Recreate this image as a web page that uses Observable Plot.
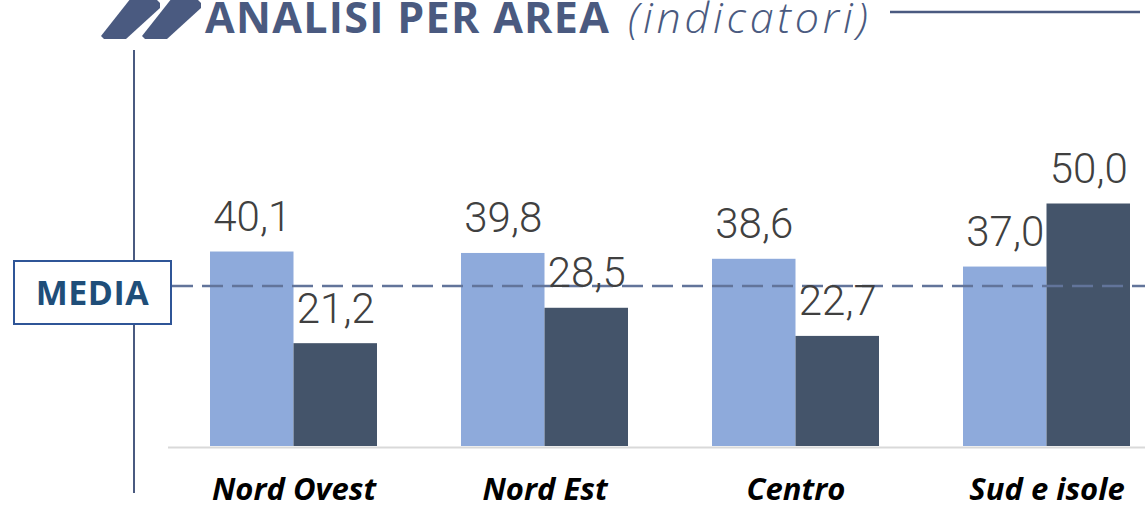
<!DOCTYPE html>
<html>
<head>
<meta charset="utf-8">
<script src="https://cdn.jsdelivr.net/npm/d3@7"></script>
<script src="https://cdn.jsdelivr.net/npm/@observablehq/plot@0.6"></script>
<style>
  html, body { margin: 0; padding: 0; background: #fff; }
  #wrap { position: relative; width: 1145px; height: 521px; overflow: hidden; }
  #wrap > svg { position: absolute; left: 0; top: 0; }
  #deco { pointer-events: none; }
</style>
</head>
<body>
<div id="wrap"></div>
<script>
// ---- data ----
const areas = ["Nord Ovest", "Nord Est", "Centro", "Sud e isole"];
const seriesA = [40.1, 39.8, 38.6, 37.0];   // light bars
const seriesB = [21.2, 28.5, 22.7, 50.0];   // dark bars
const mediaValue = 33.1;
const titleMain = "ANALISI PER AREA";
const titleSub = "(indicatori)";
const mediaLabel = "MEDIA";

const dataA = areas.map((a, i) => ({area: a, value: seriesA[i]}));
const dataB = areas.map((a, i) => ({area: a, value: seriesB[i]}));
const fmt = v => d3.format(".1f")(v).replace(".", ",");

const half = 83.5; // half of band width: each series takes one half

const chart = Plot.plot({
  width: 1145,
  height: 521,
  marginLeft: 168,
  marginRight: 0,
  marginTop: 0,
  marginBottom: 0,
  style: {fontFamily: "Roboto, 'Open Sans', sans-serif", background: "transparent", overflow: "visible"},
  x: {domain: areas, range: [210, 1130], paddingInner: 0.335, paddingOuter: 0, axis: null},
  y: {domain: [0, 50], range: [446, 203.5], axis: null},
  marks: [
    Plot.barY(dataA, {x: "area", y: "value", fill: "#8eaadb", insetRight: half}),
    Plot.barY(dataB, {x: "area", y: "value", fill: "#44546a", insetLeft: half}),
    Plot.ruleY([0], {stroke: "#d9d9d9", strokeWidth: 2, dy: 1}),
    Plot.ruleY([mediaValue], {stroke: "#62749a", strokeWidth: 2.5, strokeDasharray: "21,9", dx: 4}),
    Plot.text(dataA, {x: "area", y: "value", text: d => fmt(d.value), dx: -half / 2, dy: -21,
      lineAnchor: "bottom", fontSize: 42, fontWeight: 300, fill: "#404040"}),
    Plot.text(dataB, {x: "area", y: "value", text: d => fmt(d.value), dx: half / 2, dy: -21,
      lineAnchor: "bottom", fontSize: 42, fontWeight: 300, fill: "#404040"}),
    Plot.text(areas, {x: d => d, y: d => 0, text: d => d, dy: 44, lineAnchor: "middle",
      fontSize: 31, fontWeight: "bold", fontStyle: "italic", fill: "#000",
      fontFamily: "'Open Sans', sans-serif", letterSpacing: 0.6})
  ]
});
document.getElementById("wrap").appendChild(chart);

// ---- decorations / titles ----
const ns = "http://www.w3.org/2000/svg";
const deco = document.createElementNS(ns, "svg");
deco.setAttribute("id", "deco");
deco.setAttribute("width", 1145);
deco.setAttribute("height", 521);
const titleColor = "#4a5a80";
deco.innerHTML = `
  <polygon points="101,36 104,39 126,39 160,8 160,3 155,-2 131,-2" fill="${titleColor}"/>
  <polygon points="142,36 145,39 167,39 201,8 201,3 196,-2 172,-2" fill="${titleColor}"/>
  <line x1="134" y1="50" x2="134" y2="493" stroke="${titleColor}" stroke-width="2"/>
  <line x1="890" y1="12" x2="1140" y2="12" stroke="${titleColor}" stroke-width="2.5"/>
  <text x="205" y="33" font-family="'Open Sans', sans-serif" font-weight="bold" font-size="43" letter-spacing="1.3" fill="${titleColor}">${titleMain}</text>
  <text x="628" y="33" font-family="'Open Sans', sans-serif" font-weight="300" font-style="italic" font-size="43" letter-spacing="3.8" fill="${titleColor}">${titleSub}</text>
  <rect x="14" y="261" width="157" height="63" fill="#fff" stroke="#2f5597" stroke-width="2"/>
  <text x="92.5" y="305" text-anchor="middle" font-family="'Open Sans', sans-serif" font-weight="bold" font-size="34" letter-spacing="0.5" fill="#1f4e79">${mediaLabel}</text>
`;
document.getElementById("wrap").appendChild(deco);
</script>
</body>
</html>
